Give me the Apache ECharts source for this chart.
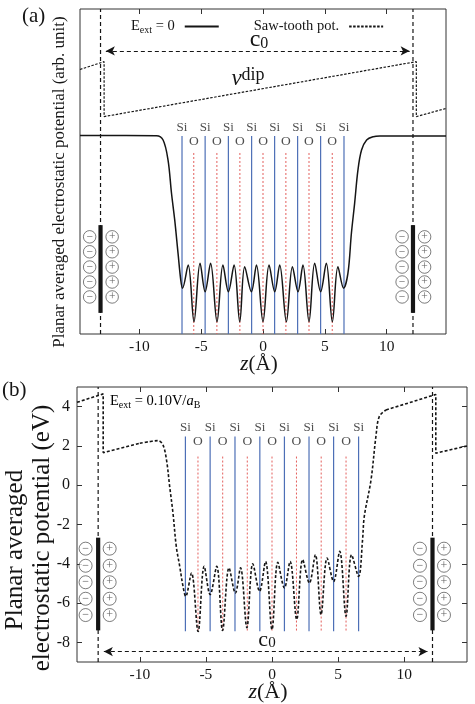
<!DOCTYPE html>
<html>
<head>
<meta charset="utf-8">
<script src="https://cdn.jsdelivr.net/npm/echarts@6/dist/echarts.min.js"></script>
<style>
html, body { margin: 0; padding: 0; background: #fff; }
#chart { width: 475px; height: 704px; }
</style>
</head>
<body>
<div id="chart"></div>
<script>
// atom planes (Å)
const siPos = [-6.55, -4.68, -2.8, -0.92, 0.94, 2.8, 4.66, 6.55];
const oPos = [-5.6, -3.73, -1.87, 0, 1.85, 3.72, 5.6];
const xTicks = [-10, -5, 0, 5, 10];
const yTicksB = [-8, -6, -4, -2, 0, 2, 4];

// (a) E_ext = 0, arbitrary units
const zA = [-14.8, -8.62, -8.08, -7.68, -7.4, -7.14, -6.87, -6.65, -6.51, -6.05, -5.58, -5.09, -4.68, -4.24,
  -3.72, -3.24, -2.8, -2.34, -1.88, -1.48, -0.94, -0.53, 0, 0.49, 0.95, 1.35, 1.89, 2.38, 2.83, 3.23, 3.72,
  4.18, 4.66, 5.12, 5.61, 6.06, 6.52, 6.87, 7.15, 7.41, 7.68, 7.97, 8.38, 8.92, 9.46, 14.8];
const potA = [61.1, 61.0, 59.7, 53.5, 43.3, 35.1, 24.8, 16.6, 14.1, 21.2, 3.8, 21.8, 13.0, 21.8,
  3.8, 21.2, 13.0, 21.2, 3.8, 20.7, 13.0, 21.2, 3.8, 21.2, 13.0, 21.2, 3.8, 20.7, 13.0, 21.2, 3.8,
  21.8, 13.0, 21.8, 3.8, 20.7, 14.1, 18.7, 31.0, 40.2, 50.5, 56.6, 59.7, 60.7, 60.9, 60.9];
const sawZ = [-14.8, -12.85, -12.85, 12.4, 12.4, 14.8];
const sawA = [81.4, 83.8, 66.9, 83.8, 66.9, 69.4];

// (b) E_ext = 0.10 V/aB, eV
const zB = [-14.75, -12.77, -12.77, -10.0, -9.25, -8.62, -8.25, -7.98, -7.74, -7.49, -7.24, -6.98, -6.73,
  -6.53, -6.09, -5.59, -5.13, -4.68, -4.18, -3.74, -3.25, -2.77, -2.38, -1.9, -1.45, -0.94, -0.49, 0,
  0.44, 0.94, 1.37, 1.87, 2.32, 2.83, 3.28, 3.71, 4.17, 4.66, 5.12, 5.6, 6.02, 6.55, 6.85, 6.98, 7.49,
  7.86, 8.11, 8.62, 12.39, 12.39, 14.75];
const potB = [4.22, 4.65, 1.66, 2.14, 2.22, 2.27, 2.05, 1.29, -0.07, -1.42, -3.12, -4.13, -5.15,
  -5.66, -4.47, -7.45, -4.13, -5.57, -4.13, -7.4, -4.21, -5.49, -4.21, -7.25, -4.0, -5.4, -3.88, -7.35,
  -3.93, -5.23, -3.88, -6.84, -3.79, -4.98, -3.54, -6.59, -3.71, -4.9, -3.37, -6.67, -3.54, -4.64, -2.78,
  -1.59, 0.27, 2.48, 3.49, 3.83, 4.62, 1.63, 2.0];

// cell edges, c0 arrow ends, charge rows
const cellA = [-13.14, 12.13];
const cellB = [-13.15, 12.14];
const c0A = [-12.71, 11.86];
const c0B = [-12.72, 11.76];
const chargeYA = [29.9, 25.3, 20.6, 16.0, 11.4];
const chargeYB = [-3.23, -4.1, -4.94, -5.78, -6.61];

const serif = "'Liberation Serif', 'DejaVu Serif', serif";
const blue = '#4d6fb6';
const red = '#e35f5c';
const ink = '#151515';

const pairs = (xs, ys) => xs.map((x, i) => [x, ys[i]]);

function plain(xi, yi, data, style, extra) {
  return Object.assign({
    type: 'line', xAxisIndex: xi, yAxisIndex: yi, data: data,
    symbol: 'none', silent: true, animation: false, lineStyle: style,
    itemStyle: { color: style.color }
  }, extra || {});
}

function atomLines(xi, yi, siTop, oTop, bottom) {
  const out = [];
  siPos.forEach(x => out.push(plain(xi, yi, [[x, siTop], [x, bottom]], { color: blue, width: 1.2 }, { z: 1 })));
  oPos.forEach(x => out.push(plain(xi, yi, [[x, oTop], [x, bottom]], { color: red, width: 1, type: [2, 2] }, { z: 1 })));
  return out;
}

function textMarks(xi, yi, xs, y, text, size) {
  return {
    type: 'scatter', xAxisIndex: xi, yAxisIndex: yi, silent: true, animation: false,
    data: xs.map(x => [x, y]), symbolSize: 1, itemStyle: { color: 'rgba(0,0,0,0)' },
    label: { show: true, position: 'inside', formatter: text, fontFamily: serif, fontSize: size, color: '#222' }
  };
}

function charges(xi, yi, xs, ys, sign, size) {
  const data = [];
  xs.forEach(x => ys.forEach(y => data.push([x, y])));
  return {
    type: 'scatter', xAxisIndex: xi, yAxisIndex: yi, silent: true, animation: false, z: 4,
    data: data, symbol: 'circle', symbolSize: size,
    itemStyle: { color: '#fff', borderColor: '#333', borderWidth: 0.8 },
    label: { show: true, position: 'inside', formatter: sign, fontFamily: serif, fontSize: size - 1, color: '#333' }
  };
}

function electrodes(xi, yi, cell, top, bottom, ys, dm, dp, size) {
  const out = [];
  cell.forEach(x => out.push(plain(xi, yi, [[x, top], [x, bottom]], { color: ink, width: 4.2 }, { z: 3 })));
  out.push(charges(xi, yi, cell.map(x => x - dm), ys, '\u2212', size));
  out.push(charges(xi, yi, cell.map(x => x + dp), ys, '+', size));
  return out;
}

function cellLines(xi, yi, cell, lo, hi, c0, c0y) {
  const out = cell.map(x => plain(xi, yi, [[x, lo], [x, hi]], { color: ink, width: 1.2, type: [4, 3] }, { z: 2 }));
  out[0].markLine = {
    silent: true, animation: false, symbol: ['arrow', 'arrow'], symbolSize: [7, 9],
    label: { show: false },
    lineStyle: { color: ink, width: 1.1, type: [4, 3] },
    data: [[{ coord: [c0[0], c0y] }, { coord: [c0[1], c0y] }]]
  };
  return out;
}

const pB = pairs(zB, potB);
const dashB = { color: ink, width: 1.6, type: [3, 2] };

const series = [].concat(
  atomLines(0, 0, 60.9, 55.7, 0),
  atomLines(2, 1, 2.48, 1.46, -7.44),
  [textMarks(0, 0, siPos, 63.4, 'Si', 13), textMarks(0, 0, oPos, 59.1, 'O', 13.5),
   textMarks(2, 1, siPos, 2.95, 'Si', 13), textMarks(2, 1, oPos, 2.22, 'O', 13.5)],
  cellLines(0, 0, cellA, 0, 100, c0A, 87.1),
  cellLines(2, 1, cellB, -9, 5, c0B, -8.47),
  electrodes(0, 0, cellA, 33.5, 6.5, chargeYA, 0.88, 0.94, 12.5),
  electrodes(2, 1, cellB, -2.67, -7.39, chargeYB, 0.95, 0.87, 13),
  [
    plain(0, 0, pairs(zA, potA), { color: ink, width: 1.5 }, { name: 'E0', smooth: 0.35, z: 5 }),
    plain(0, 0, pairs(sawZ, sawA), { color: ink, width: 1.2, type: [2.5, 1.5] }, { name: 'Saw', z: 5 }),
    plain(2, 1, pB.slice(0, 4), dashB, { z: 5 }),
    plain(2, 1, pB.slice(3, 48), dashB, { smooth: 0.35, z: 5 }),
    plain(2, 1, pB.slice(47), dashB, { z: 5 })
  ]
);

function xAxis(grid, min, max, pos, labels) {
  return {
    type: 'value', gridIndex: grid, min: min, max: max, position: pos,
    axisLine: { show: false, onZero: false }, splitLine: { show: false },
    axisTick: { show: true, inside: true, length: 5, customValues: xTicks, lineStyle: { color: '#333' } },
    axisLabel: { show: labels, customValues: xTicks, margin: 5, fontFamily: serif, fontSize: 15.5, color: ink }
  };
}

function yAxisB(pos, labels) {
  return {
    type: 'value', gridIndex: 1, min: -9, max: 5, position: pos,
    axisLine: { show: false, onZero: false }, splitLine: { show: false },
    axisTick: { show: true, inside: true, length: 5, customValues: yTicksB, lineStyle: { color: '#333' } },
    axisLabel: { show: labels, customValues: yTicksB, margin: 7, fontFamily: serif, fontSize: 16, color: ink }
  };
}

const rich = {
  m: { fontFamily: serif, fontSize: 14.5, lineHeight: 18, color: ink },
  s: { fontFamily: serif, fontSize: 10, lineHeight: 10, verticalAlign: 'bottom', color: ink },
  i: { fontFamily: serif, fontSize: 14.5, lineHeight: 18, fontStyle: 'italic', color: ink }
};

const option = {
  animation: false,
  backgroundColor: '#fff',
  grid: [
    { left: 80, top: 9, width: 366, height: 325, show: true, borderColor: '#333', borderWidth: 1 },
    { left: 77, top: 387, width: 390, height: 275, show: true, borderColor: '#333', borderWidth: 1 }
  ],
  xAxis: [
    xAxis(0, -14.8, 14.8, 'bottom', true),
    xAxis(0, -14.8, 14.8, 'top', false),
    xAxis(1, -14.75, 14.75, 'bottom', true),
    xAxis(1, -14.75, 14.75, 'top', false)
  ],
  yAxis: [
    { type: 'value', gridIndex: 0, min: 0, max: 100, axisLine: { show: false, onZero: false }, axisTick: { show: false },
      axisLabel: { show: false }, splitLine: { show: false } },
    yAxisB('left', true),
    yAxisB('right', false)
  ],
  legend: {
    left: 126, top: 14, align: 'right', selectedMode: false, itemWidth: 34, itemHeight: 10, itemGap: 34,
    data: ['E0', 'Saw'],
    itemStyle: { opacity: 0 },
    formatter: n => n === 'E0' ? '{m|E}{s|ext}{m| = 0}' : '{m|Saw-tooth pot.}',
    textStyle: { padding: [0, 5, 0, 0], rich: rich }
  },
  graphic: [
    { type: 'text', left: 22, top: 6, style: { text: '(a)', fontFamily: serif, fontSize: 21, fill: ink } },
    { type: 'text', left: 2, top: 380, style: { text: '(b)', fontFamily: serif, fontSize: 21, fill: ink } },
    { type: 'text', x: 60, y: 182, rotation: Math.PI / 2,
      style: { text: 'Planar averaged electrostatic potential (arb. unit)', fontFamily: serif, fontSize: 17,
        fill: ink, align: 'center', verticalAlign: 'middle' } },
    { type: 'text', x: 15, y: 550, rotation: Math.PI / 2,
      style: { text: 'Planar averaged', fontFamily: serif, fontSize: 25, fill: ink, align: 'center', verticalAlign: 'middle' } },
    { type: 'text', x: 42, y: 538, rotation: Math.PI / 2,
      style: { text: 'electrostatic potential (eV)', fontFamily: serif, fontSize: 25, fill: ink, align: 'center', verticalAlign: 'middle' } },
    { type: 'text', x: 259, y: 364,
      style: { text: '{i|z}{m|(\u00c5)}', align: 'center', verticalAlign: 'middle',
        rich: { i: { fontFamily: serif, fontSize: 21, fontStyle: 'italic', fill: ink }, m: { fontFamily: serif, fontSize: 21, fill: ink } } } },
    { type: 'text', x: 268, y: 692,
      style: { text: '{i|z}{m|(\u00c5)}', align: 'center', verticalAlign: 'middle',
        rich: { i: { fontFamily: serif, fontSize: 22, fontStyle: 'italic', fill: ink }, m: { fontFamily: serif, fontSize: 22, fill: ink } } } },
    { type: 'text', x: 259, y: 40,
      style: { text: '{c|c}{s|0}', align: 'center', verticalAlign: 'middle',
        rich: { c: { fontFamily: serif, fontSize: 24, lineHeight: 24, fill: ink },
          s: { fontFamily: serif, fontSize: 16, lineHeight: 14, verticalAlign: 'bottom', fill: ink } } } },
    { type: 'text', x: 267, y: 640,
      style: { text: '{c|c}{s|0}', align: 'center', verticalAlign: 'middle',
        rich: { c: { fontFamily: serif, fontSize: 22, lineHeight: 22, fill: ink },
          s: { fontFamily: serif, fontSize: 15, lineHeight: 13, verticalAlign: 'bottom', fill: ink } } } },
    { type: 'text', x: 248, y: 79,
      style: { text: '{v|v}{p|dip}', align: 'center', verticalAlign: 'middle',
        rich: { v: { fontFamily: serif, fontSize: 23, lineHeight: 26, fontStyle: 'italic', fill: ink },
          p: { fontFamily: serif, fontSize: 18, lineHeight: 18, verticalAlign: 'top', fill: ink } } } },
    { type: 'text', left: 110, top: 394,
      style: { text: '{m|E}{s|ext}{m| = 0.10V/}{i|a}{s|B}', rich: rich } }
  ],
  series: series
};

const chart = echarts.init(document.getElementById('chart'));
chart.setOption(option);
</script>
</body>
</html>
